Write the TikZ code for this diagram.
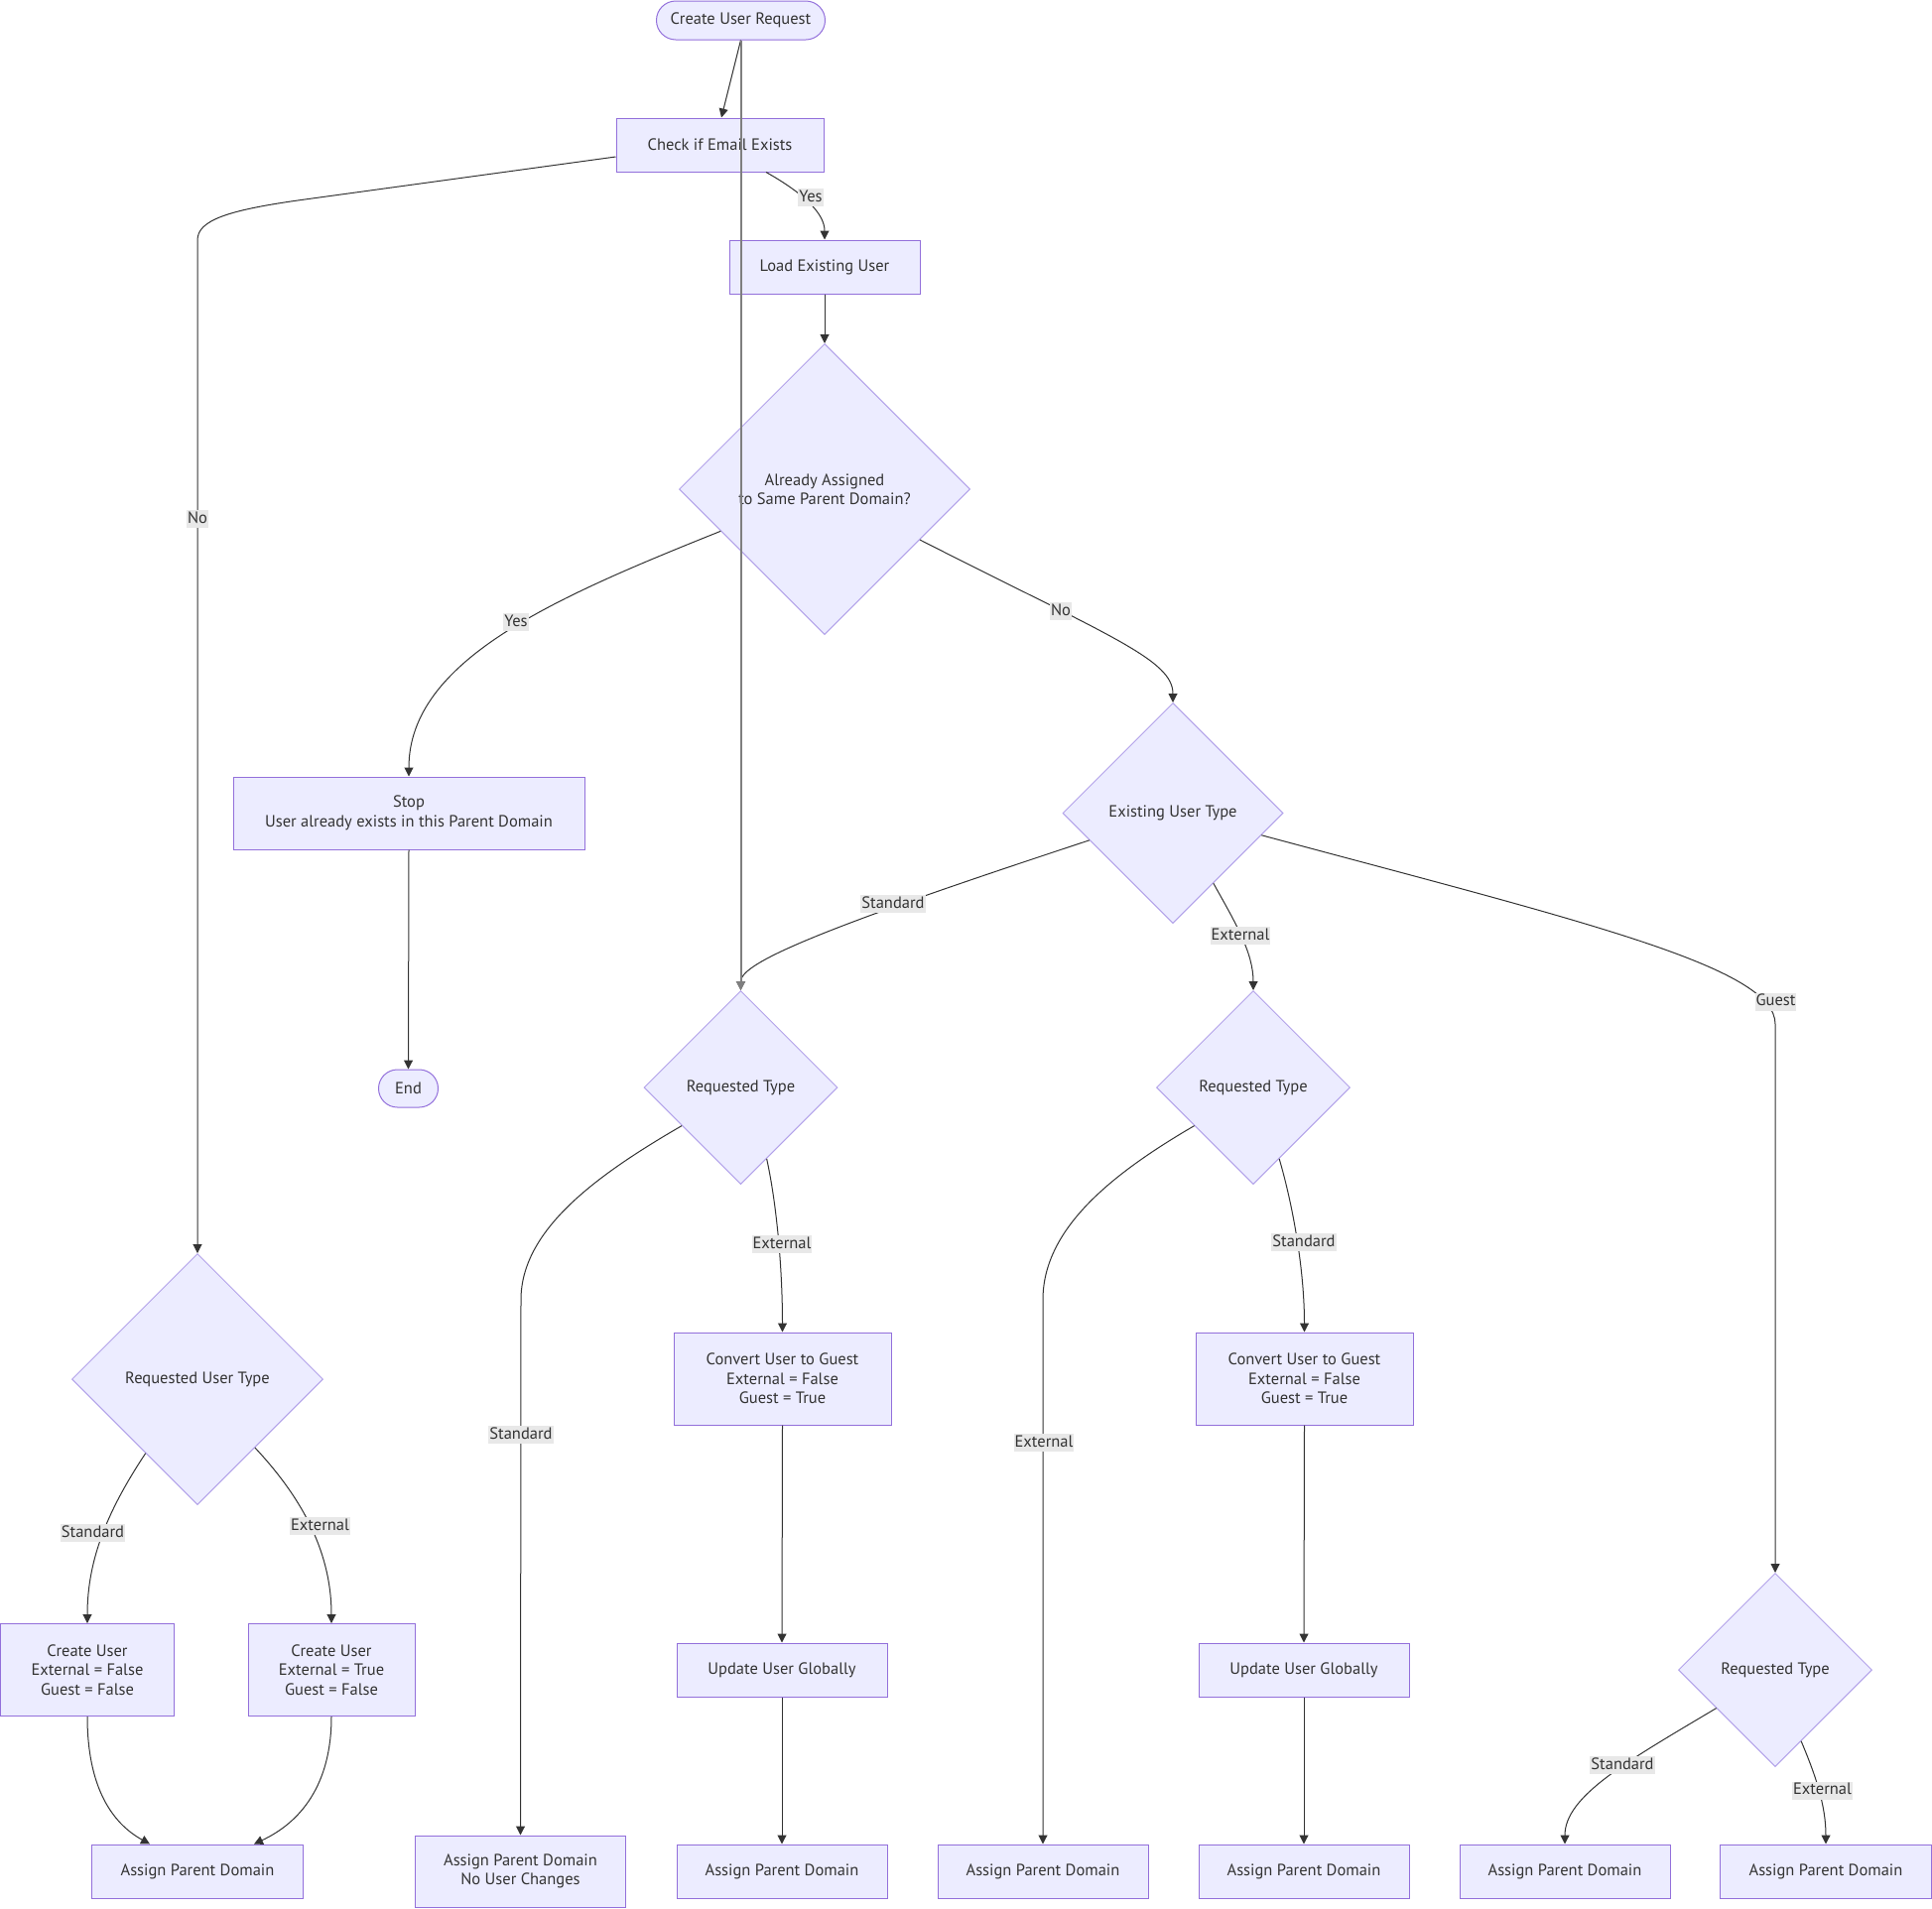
\documentclass[tikz,border=0pt]{standalone}
\usepackage{fontspec}
\setmainfont{PT Sans}
\usetikzlibrary{shapes.geometric,shapes.misc,arrows.meta}
\definecolor{nfill}{HTML}{ECECFF}
\definecolor{nstroke}{HTML}{9370DB}
\definecolor{dstroke}{HTML}{B3A3EA}
\definecolor{tcol}{HTML}{333333}
\definecolor{lfill}{HTML}{E8E8E8}
\definecolor{gline}{HTML}{7F7F7F}
\newcommand\fsz{\fontsize{16.5}{19.5}\selectfont}
\begin{document}
\begin{tikzpicture}[x=1pt,y=-1pt,
  txt/.style={font=\fsz, text=tcol},
  box/.style={txt, rectangle, draw=nstroke, fill=nfill, line width=1pt, inner sep=0pt, align=center},
  term/.style={txt, rounded rectangle, draw=nstroke, fill=nfill, line width=1pt, inner sep=0pt},
  dec/.style={txt, diamond, aspect=1, draw=dstroke, fill=nfill, line width=1pt, inner sep=0pt, align=center},
  conn/.style={draw=tcol, line width=1pt, -{Triangle[length=9pt,width=9pt]}},
  elab/.style={txt, fill=lfill, inner xsep=1pt, inner ysep=0pt, text height=13pt, text depth=5pt}]
\useasboundingbox (0,0) rectangle (1947,1923);
\fill[white] (0,0) rectangle (1947,1923);

% nodes
\node[term, minimum width=170pt, minimum height=39pt] (start) at (746.5,20.5) {Create User Request};
\node[box, minimum width=209pt, minimum height=54pt] (check) at (725.5,146) {Check if Email Exists};
\node[box, minimum width=192pt, minimum height=54pt] (load) at (831,269) {Load Existing User};
\node[dec, minimum width=293pt, minimum height=293pt] (assigned) at (831,493) {Already Assigned\\to Same Parent Domain?};
\node[box, minimum width=354pt, minimum height=73pt] (stop) at (412,819.5) {Stop\\User already exists in this Parent Domain};
\node[term, minimum width=60pt, minimum height=38pt] (endn) at (411.5,1097) {End};
\node[dec, minimum width=222pt, minimum height=222pt] (exist) at (1182,819.5) {Existing User Type};
\node[dec, minimum width=195pt, minimum height=195pt] (rt1) at (746.5,1096) {Requested Type};
\node[dec, minimum width=195pt, minimum height=195pt] (rt2) at (1263,1096) {Requested Type};
\node[dec, minimum width=253pt, minimum height=253pt] (rut) at (199,1390) {Requested User Type};
\node[dec, minimum width=195pt, minimum height=195pt] (rt3) at (1789,1683) {Requested Type};

\node[box, minimum width=175pt, minimum height=93pt] (cstd) at (88,1683) {Create User\\External = False\\Guest = False};
\node[box, minimum width=168pt, minimum height=93pt] (cext) at (334,1683) {Create User\\External = True\\Guest = False};
\node[box, minimum width=213pt, minimum height=54pt] (apdL) at (199,1886) {Assign Parent Domain};
\node[box, minimum width=212pt, minimum height=72pt] (apdNC) at (524.5,1886) {Assign Parent Domain\\No User Changes};
\node[box, minimum width=219pt, minimum height=93pt] (conv1) at (788.5,1389.5) {Convert User to Guest\\External = False\\Guest = True};
\node[box, minimum width=212pt, minimum height=54pt] (upd1) at (788,1683) {Update User Globally};
\node[box, minimum width=212pt, minimum height=54pt] (apd3) at (788,1886) {Assign Parent Domain};
\node[box, minimum width=212pt, minimum height=54pt] (apd4) at (1051,1886) {Assign Parent Domain};
\node[box, minimum width=219pt, minimum height=93pt] (conv2) at (1314.5,1389.5) {Convert User to Guest\\External = False\\Guest = True};
\node[box, minimum width=212pt, minimum height=54pt] (upd2) at (1314,1683) {Update User Globally};
\node[box, minimum width=212pt, minimum height=54pt] (apd5) at (1314,1886) {Assign Parent Domain};
\node[box, minimum width=212pt, minimum height=54pt] (apd6) at (1577,1886) {Assign Parent Domain};
\node[box, minimum width=213pt, minimum height=54pt] (apd7) at (1840,1886) {Assign Parent Domain};

% connectors
\draw[conn] (start.south) -- ([xshift=1.5pt]check.north);
\draw[conn] ([xshift=46.5pt]check.south) .. controls (810,195) and (831,215) .. (load.north);
\draw[conn] ([yshift=-12pt]check.west) -- (300,202) .. controls (230,212) and (199,222) .. (199,242) -- (rut.north);
\draw[conn] (load.south) -- (assigned.north);
\draw[conn] (assigned.202.6) .. controls (560,602) and (412,665) .. (stop.north);
\draw[conn] (assigned.332.7) .. controls (1120,642) and (1182,665) .. (exist.north);
\draw[conn] (stop.south) -- (endn.north);
\draw[conn] (exist.198.1) .. controls (830,935) and (746.5,970) .. (rt1.north);
\draw[conn] (exist.300.3) .. controls (1245,930) and (1263,960) .. (rt2.north);
\draw[conn] (exist.346.7) .. controls (1600,930) and (1789,975) .. (1789,1032) -- (rt3.north);
\draw[conn] (rt1.213.9) .. controls (600,1185) and (525,1240) .. (525,1310) -- (apdNC.north);
\draw[conn] (rt1.290.7) .. controls (783,1215) and (788.5,1280) .. (conv1.north);
\draw[conn] (conv1.south) -- (upd1.north);
\draw[conn] (upd1.south) -- (apd3.north);
\draw[conn] (rt2.213) .. controls (1117,1185) and (1051,1240) .. (1051,1310) -- (apd4.north);
\draw[conn] (rt2.290.8) .. controls (1303,1215) and (1314.5,1280) .. (conv2.north);
\draw[conn] (conv2.south) -- (upd2.north);
\draw[conn] (upd2.south) -- (apd5.north);
\draw[conn] (rut.235.3) .. controls (110,1520) and (88,1570) .. (cstd.north);
\draw[conn] (rut.310) .. controls (300,1505) and (334,1560) .. (cext.north);
\draw[conn] (cstd.south) .. controls (88,1800) and (112,1837) .. ([xshift=-48pt]apdL.north);
\draw[conn] (cext.south) .. controls (334,1800) and (302,1837) .. ([xshift=57pt]apdL.north);
\draw[conn] (rt3.213) .. controls (1640,1775) and (1577,1810) .. (apd6.north);
\draw[conn] (rt3.290.8) .. controls (1830,1790) and (1840,1820) .. (apd7.north);

% edge labels
\node[elab] (l1) at (817,199) {Yes};
\node[elab] (l2) at (199,523) {No};
\node[elab] (l3) at (520,627) {Yes};
\node[elab] (l4) at (1069,616) {No};
\node[elab] (l5) at (900,911) {Standard};
\node[elab] (l6) at (1250,943) {External};
\node[elab] (l7) at (1789.5,1009.5) {Guest};
\node[elab] (l8) at (525,1446) {Standard};
\node[elab] (l9) at (788,1254) {External};
\node[elab] (l10) at (1052,1454) {External};
\node[elab] (l11) at (1314,1252) {Standard};
\node[elab] (l12) at (93.5,1545) {Standard};
\node[elab] (l13) at (322.5,1538) {External};
\node[elab] (l14) at (1635,1779) {Standard};
\node[elab] (l15) at (1836.5,1804.5) {External};

% long grey connector drawn over the nodes
\draw[conn, draw=gline, line width=2pt] (start.south) -- (rt1.north);
\end{tikzpicture}
\end{document}
